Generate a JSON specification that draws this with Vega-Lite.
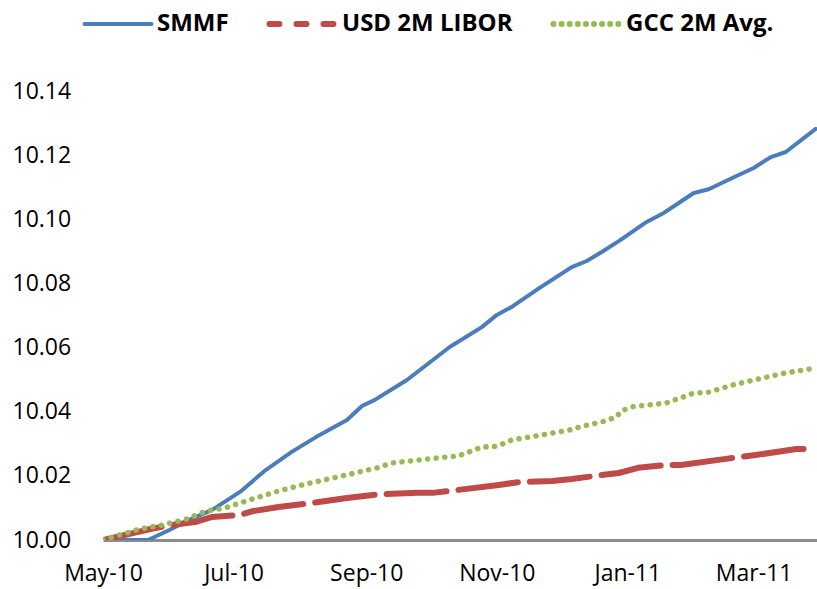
{
  "$schema": "https://vega.github.io/schema/vega-lite/v6.json",
  "autosize": {"type": "none"},
  "width": 717,
  "height": 481,
  "padding": {"left": 103, "top": 59, "right": 0, "bottom": 49},
  "background": "white",
  "config": {"view": {"stroke": null}, "font": "Open Sans"},
  "data": {
    "values": [
      {"series": "SMMF", "date": "2010-05-01", "value": 10.0},
      {"series": "SMMF", "date": "2010-05-22", "value": 10.0},
      {"series": "SMMF", "date": "2010-06-01", "value": 10.0031},
      {"series": "SMMF", "date": "2010-06-10", "value": 10.0062},
      {"series": "SMMF", "date": "2010-06-21", "value": 10.0094},
      {"series": "SMMF", "date": "2010-07-04", "value": 10.015},
      {"series": "SMMF", "date": "2010-07-16", "value": 10.0218},
      {"series": "SMMF", "date": "2010-07-28", "value": 10.0274},
      {"series": "SMMF", "date": "2010-08-10", "value": 10.0327},
      {"series": "SMMF", "date": "2010-08-23", "value": 10.0374},
      {"series": "SMMF", "date": "2010-08-30", "value": 10.0418},
      {"series": "SMMF", "date": "2010-09-05", "value": 10.0437},
      {"series": "SMMF", "date": "2010-09-20", "value": 10.0499},
      {"series": "SMMF", "date": "2010-10-10", "value": 10.0602},
      {"series": "SMMF", "date": "2010-10-25", "value": 10.0664},
      {"series": "SMMF", "date": "2010-11-01", "value": 10.0702},
      {"series": "SMMF", "date": "2010-11-08", "value": 10.0727},
      {"series": "SMMF", "date": "2010-11-21", "value": 10.0786},
      {"series": "SMMF", "date": "2010-12-06", "value": 10.0851},
      {"series": "SMMF", "date": "2010-12-13", "value": 10.087},
      {"series": "SMMF", "date": "2010-12-20", "value": 10.0898},
      {"series": "SMMF", "date": "2010-12-28", "value": 10.0932},
      {"series": "SMMF", "date": "2011-01-10", "value": 10.0992},
      {"series": "SMMF", "date": "2011-01-18", "value": 10.102},
      {"series": "SMMF", "date": "2011-01-25", "value": 10.1051},
      {"series": "SMMF", "date": "2011-02-01", "value": 10.1082},
      {"series": "SMMF", "date": "2011-02-08", "value": 10.1094},
      {"series": "SMMF", "date": "2011-02-19", "value": 10.1129},
      {"series": "SMMF", "date": "2011-03-01", "value": 10.116},
      {"series": "SMMF", "date": "2011-03-09", "value": 10.1194},
      {"series": "SMMF", "date": "2011-03-16", "value": 10.121},
      {"series": "SMMF", "date": "2011-03-30", "value": 10.1282},
      {"series": "USD 2M LIBOR", "date": "2010-05-01", "value": 10.0},
      {"series": "USD 2M LIBOR", "date": "2010-05-21", "value": 10.0031},
      {"series": "USD 2M LIBOR", "date": "2010-06-02", "value": 10.0047},
      {"series": "USD 2M LIBOR", "date": "2010-06-13", "value": 10.0056},
      {"series": "USD 2M LIBOR", "date": "2010-06-21", "value": 10.0072},
      {"series": "USD 2M LIBOR", "date": "2010-07-04", "value": 10.0078},
      {"series": "USD 2M LIBOR", "date": "2010-07-10", "value": 10.009},
      {"series": "USD 2M LIBOR", "date": "2010-07-22", "value": 10.0103},
      {"series": "USD 2M LIBOR", "date": "2010-08-06", "value": 10.0115},
      {"series": "USD 2M LIBOR", "date": "2010-08-23", "value": 10.0131},
      {"series": "USD 2M LIBOR", "date": "2010-09-07", "value": 10.0143},
      {"series": "USD 2M LIBOR", "date": "2010-09-25", "value": 10.0147},
      {"series": "USD 2M LIBOR", "date": "2010-10-02", "value": 10.0147},
      {"series": "USD 2M LIBOR", "date": "2010-10-10", "value": 10.0153},
      {"series": "USD 2M LIBOR", "date": "2010-11-01", "value": 10.0171},
      {"series": "USD 2M LIBOR", "date": "2010-11-12", "value": 10.0181},
      {"series": "USD 2M LIBOR", "date": "2010-11-27", "value": 10.0184},
      {"series": "USD 2M LIBOR", "date": "2010-12-06", "value": 10.019},
      {"series": "USD 2M LIBOR", "date": "2010-12-17", "value": 10.02},
      {"series": "USD 2M LIBOR", "date": "2010-12-28", "value": 10.0209},
      {"series": "USD 2M LIBOR", "date": "2011-01-06", "value": 10.0225},
      {"series": "USD 2M LIBOR", "date": "2011-01-19", "value": 10.0234},
      {"series": "USD 2M LIBOR", "date": "2011-01-26", "value": 10.0234},
      {"series": "USD 2M LIBOR", "date": "2011-02-16", "value": 10.0253},
      {"series": "USD 2M LIBOR", "date": "2011-03-02", "value": 10.0265},
      {"series": "USD 2M LIBOR", "date": "2011-03-21", "value": 10.0284},
      {"series": "USD 2M LIBOR", "date": "2011-03-29", "value": 10.0284},
      {"series": "GCC 2M Avg.", "date": "2010-05-01", "value": 10.0},
      {"series": "GCC 2M Avg.", "date": "2010-05-18", "value": 10.0034},
      {"series": "GCC 2M Avg.", "date": "2010-05-29", "value": 10.0047},
      {"series": "GCC 2M Avg.", "date": "2010-06-09", "value": 10.0065},
      {"series": "GCC 2M Avg.", "date": "2010-06-18", "value": 10.009},
      {"series": "GCC 2M Avg.", "date": "2010-06-27", "value": 10.01},
      {"series": "GCC 2M Avg.", "date": "2010-07-07", "value": 10.0122},
      {"series": "GCC 2M Avg.", "date": "2010-07-22", "value": 10.0153},
      {"series": "GCC 2M Avg.", "date": "2010-08-06", "value": 10.0178},
      {"series": "GCC 2M Avg.", "date": "2010-08-23", "value": 10.0203},
      {"series": "GCC 2M Avg.", "date": "2010-09-06", "value": 10.0225},
      {"series": "GCC 2M Avg.", "date": "2010-09-13", "value": 10.024},
      {"series": "GCC 2M Avg.", "date": "2010-09-30", "value": 10.0253},
      {"series": "GCC 2M Avg.", "date": "2010-10-14", "value": 10.0262},
      {"series": "GCC 2M Avg.", "date": "2010-10-25", "value": 10.029},
      {"series": "GCC 2M Avg.", "date": "2010-11-01", "value": 10.0292},
      {"series": "GCC 2M Avg.", "date": "2010-11-08", "value": 10.0312},
      {"series": "GCC 2M Avg.", "date": "2010-11-19", "value": 10.0324},
      {"series": "GCC 2M Avg.", "date": "2010-12-05", "value": 10.0343},
      {"series": "GCC 2M Avg.", "date": "2010-12-11", "value": 10.0355},
      {"series": "GCC 2M Avg.", "date": "2010-12-20", "value": 10.0368},
      {"series": "GCC 2M Avg.", "date": "2010-12-27", "value": 10.0384},
      {"series": "GCC 2M Avg.", "date": "2010-12-29", "value": 10.0402},
      {"series": "GCC 2M Avg.", "date": "2011-01-03", "value": 10.0415},
      {"series": "GCC 2M Avg.", "date": "2011-01-19", "value": 10.0427},
      {"series": "GCC 2M Avg.", "date": "2011-02-01", "value": 10.0458},
      {"series": "GCC 2M Avg.", "date": "2011-02-08", "value": 10.0461},
      {"series": "GCC 2M Avg.", "date": "2011-02-19", "value": 10.0483},
      {"series": "GCC 2M Avg.", "date": "2011-03-05", "value": 10.0505},
      {"series": "GCC 2M Avg.", "date": "2011-03-16", "value": 10.0521},
      {"series": "GCC 2M Avg.", "date": "2011-03-27", "value": 10.0533}
    ],
    "format": {"parse": {"date": "date:'%Y-%m-%d'"}}
  },
  "encoding": {
    "x": {
      "field": "date",
      "type": "temporal",
      "scale": {"domain": [{"year": 2010, "month": 5, "date": 1}, {"year": 2011, "month": 4, "date": 1}]},
      "axis": {
        "title": null,
        "values": [
          {"year": 2010, "month": 5, "date": 1},
          {"year": 2010, "month": 7, "date": 1},
          {"year": 2010, "month": 9, "date": 1},
          {"year": 2010, "month": 11, "date": 1},
          {"year": 2011, "month": 1, "date": 1},
          {"year": 2011, "month": 3, "date": 1}
        ],
        "format": "%b-%y",
        "ticks": false,
        "grid": false,
        "domainColor": "#8c8c8c",
        "domainWidth": 3,
        "labelFontSize": 23,
        "labelColor": "#000000",
        "labelFont": "Open Sans",
        "labelPadding": 22,
        "labelFlush": false,
        "labelOverlap": false
      }
    },
    "y": {
      "field": "value",
      "type": "quantitative",
      "scale": {"domain": [10.0, 10.15], "zero": false, "nice": false},
      "axis": {
        "title": null,
        "values": [10.0, 10.02, 10.04, 10.06, 10.08, 10.1, 10.12, 10.14],
        "format": ".2f",
        "ticks": false,
        "grid": false,
        "domain": false,
        "labelAlign": "left",
        "labelPadding": 91,
        "labelFontSize": 23,
        "labelColor": "#000000",
        "labelFont": "Open Sans"
      }
    },
    "color": {
      "field": "series",
      "type": "nominal",
      "sort": ["SMMF", "USD 2M LIBOR", "GCC 2M Avg."],
      "scale": {"domain": ["SMMF", "USD 2M LIBOR", "GCC 2M Avg."], "range": ["#4a7ebb", "#be4b48", "#98b954"]},
      "legend": {
        "title": null,
        "orient": "none",
        "legendX": -20,
        "legendY": -47,
        "direction": "horizontal",
        "symbolType": "stroke",
        "symbolSize": 4500,
        "symbolStrokeWidth": 4,
        "symbolOffset": 23,
        "labelOffset": 27,
        "labelLimit": 400,
        "columnPadding": 28,
        "labelFontSize": 24,
        "labelFontWeight": "bold",
        "labelFont": "Open Sans",
        "labelColor": "#000000",
        "encode": {
          "symbols": {
            "update": {
              "strokeDash": {"signal": "datum.value === 'USD 2M LIBOR' ? [10, 17] : (datum.value === 'GCC 2M Avg.' ? [0.1, 8] : [1, 0])"},
              "strokeWidth": {"signal": "datum.value === 'SMMF' ? 4 : 6"},
              "strokeCap": {"value": "round"}
            }
          }
        }
      }
    }
  },
  "layer": [
    {
      "transform": [{"filter": "datum.series === 'SMMF'"}],
      "mark": {"type": "line", "strokeCap": "round", "strokeJoin": "round", "strokeWidth": 4, "clip": true}
    },
    {
      "transform": [{"filter": "datum.series === 'USD 2M LIBOR'"}],
      "mark": {"type": "line", "strokeCap": "round", "strokeJoin": "round", "strokeWidth": 6, "strokeDash": [60, 12], "clip": true}
    },
    {
      "transform": [{"filter": "datum.series === 'GCC 2M Avg.'"}],
      "mark": {"type": "line", "strokeCap": "round", "strokeJoin": "round", "strokeWidth": 5.5, "strokeDash": [0.1, 8.5], "clip": true}
    }
  ]
}
